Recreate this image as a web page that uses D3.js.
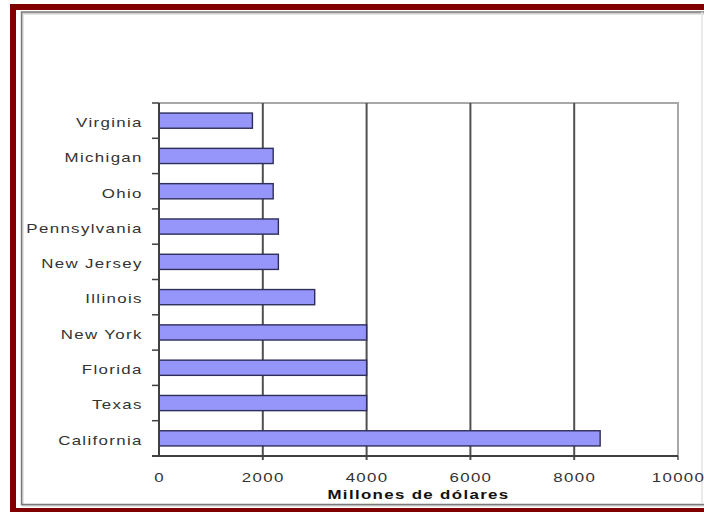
<!DOCTYPE html>
<html>
<head>
<meta charset="utf-8">
<script src="https://cdn.jsdelivr.net/npm/d3@7"></script>
<style>
  html, body { margin: 0; padding: 0; background: #fff; }
  svg { display: block; }
  text { font-family: "Liberation Sans", Arial, sans-serif; }
</style>
</head>
<body>
<svg id="chart" width="704" height="512"></svg>
<script>
// States, top to bottom
const states = ["Virginia", "Michigan", "Ohio", "Pennsylvania", "New Jersey",
                "Illinois", "New York", "Florida", "Texas", "California"];
// Millions of dollars
const values = [1800, 2200, 2200, 2300, 2300, 3000, 4000, 4000, 4000, 8500];
const xTicks = [0, 2000, 4000, 6000, 8000, 10000];
const xTitle = "Millones de dólares";

const svg = d3.select("#chart");
const W = 704, H = 512;
const m = { top: 103, right: 26, bottom: 56, left: 159 };
const stretch = 1.35;

// outer maroon border
svg.append("rect").attr("x", 10).attr("y", 4).attr("width", W - 10).attr("height", 6).attr("fill", "#800000");
svg.append("rect").attr("x", 10).attr("y", 4).attr("width", 6).attr("height", H - 4).attr("fill", "#800000");
svg.append("rect").attr("x", 10).attr("y", 508).attr("width", W - 10).attr("height", 4).attr("fill", "#800000");

// chart area frame with soft shadow (open on the right, faint edge there)
svg.append("path").attr("d", "M705,13.5H22.5V505.5H705")
  .attr("fill", "none").attr("stroke", "#cfcfcf").attr("stroke-width", 2);
svg.append("path").attr("d", "M705,12H21.5V504.5H705")
  .attr("fill", "none").attr("stroke", "#7a7a7a").attr("stroke-width", 1.4);
svg.append("line").attr("x1", 702).attr("x2", 702).attr("y1", 12).attr("y2", 504)
  .attr("stroke", "#e4e4e4").attr("stroke-width", 1.5);

const x = d3.scaleLinear().domain([0, 10000]).range([m.left, W - m.right]);
const y = d3.scaleBand().domain(states).range([m.top, H - m.bottom])
  .paddingInner(0.57).paddingOuter(0.285);

const g = svg.append("g");

// plot border (top and right)
g.append("path")
  .attr("d", `M${x(0)},${m.top}H${x(10000)}V${H - m.bottom}`)
  .attr("fill", "none").attr("stroke", "#a8a8a8").attr("stroke-width", 2);

// vertical gridlines
g.selectAll("line.grid").data(xTicks.slice(1, -1)).join("line")
  .attr("class", "grid")
  .attr("x1", d => x(d)).attr("x2", d => x(d))
  .attr("y1", m.top).attr("y2", H - m.bottom + 4)
  .attr("stroke", "#505050").attr("stroke-width", 2);
g.append("line")
  .attr("x1", x(10000)).attr("x2", x(10000))
  .attr("y1", H - m.bottom).attr("y2", H - m.bottom + 4)
  .attr("stroke", "#808080").attr("stroke-width", 2);

// bars
g.selectAll("rect.bar").data(states).join("rect")
  .attr("class", "bar")
  .attr("x", x(0))
  .attr("y", d => y(d))
  .attr("width", (d, i) => x(values[i]) - x(0))
  .attr("height", y.bandwidth())
  .attr("fill", "#9696fa").attr("stroke", "#2e2e5a").attr("stroke-width", 1.4);

// category axis: ticks at band boundaries
const step = y.step();
const bounds = states.map(d => y(d) - (step - y.bandwidth()) / 2).concat([H - m.bottom]);
g.selectAll("line.ctick").data(bounds).join("line")
  .attr("class", "ctick")
  .attr("x1", x(0) - 7).attr("x2", x(0))
  .attr("y1", d => d).attr("y2", d => d)
  .attr("stroke", "#404040").attr("stroke-width", 1.5);
g.append("line").attr("x1", x(0)).attr("x2", x(0)).attr("y1", m.top).attr("y2", H - m.bottom)
  .attr("stroke", "#404040").attr("stroke-width", 2);
g.append("line").attr("x1", x(0) - 7).attr("x2", x(10000)).attr("y1", H - m.bottom).attr("y2", H - m.bottom)
  .attr("stroke", "#404040").attr("stroke-width", 2);

// category labels
const yAxis = g.append("g").attr("transform", `translate(${x(0)},0)`)
  .call(d3.axisLeft(y).tickSize(0).tickPadding(0));
yAxis.select(".domain").remove();
yAxis.selectAll("text")
  .attr("x", -12).attr("dy", "0.5em")
  .attr("transform", `scale(${stretch},1)`)
  .attr("font-size", 12.5).attr("letter-spacing", 1)
  .attr("fill", "#333");

// value axis labels
const xAxis = g.append("g").attr("transform", `translate(0,${H - m.bottom})`)
  .call(d3.axisBottom(x).tickValues(xTicks).tickSize(0).tickPadding(0).tickFormat(d3.format("d")));
xAxis.select(".domain").remove();
xAxis.selectAll("text")
  .attr("y", 0).attr("dy", 0)
  .attr("transform", `translate(0,26) scale(${stretch},1)`)
  .attr("font-size", 12.5).attr("letter-spacing", 1)
  .attr("fill", "#333");

// axis title
svg.append("text")
  .attr("transform", `translate(${(x(0) + x(10000)) / 2},499) scale(${stretch},1)`)
  .attr("text-anchor", "middle")
  .attr("font-size", 12.5).attr("font-weight", "bold").attr("letter-spacing", 1)
  .attr("fill", "#111")
  .text(xTitle);
</script>
</body>
</html>
